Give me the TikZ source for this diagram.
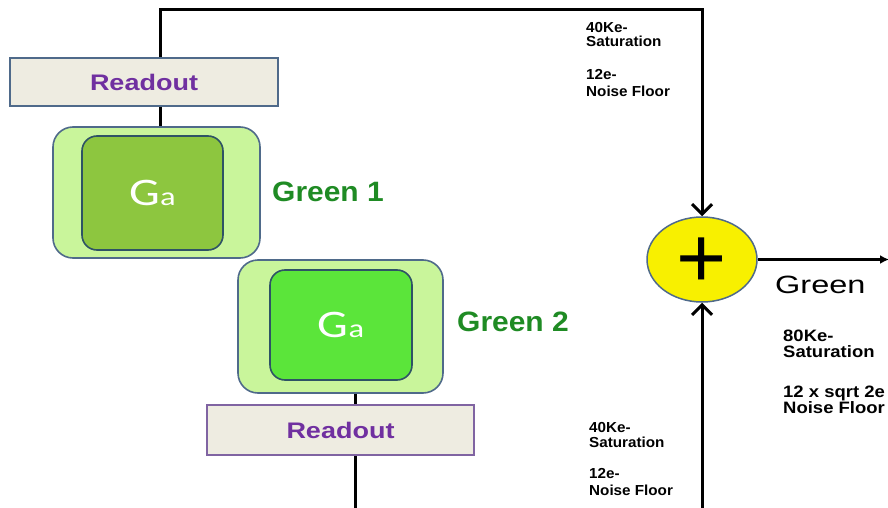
\documentclass[tikz,border=0pt]{standalone}
\usepackage{fontspec}
\setmainfont{Liberation Sans}
\newfontfamily\rdfont{Liberation Sans Bold}[FakeStretch=1.2]
\newfontfamily\grfont{Liberation Sans Bold}[FakeStretch=1.07]
\newfontfamily\outfont{Liberation Sans}[FakeStretch=1.3]
\newfontfamily\smfont{Liberation Sans Bold}[FakeStretch=1.05]
\newfontfamily\rsmfont{Liberation Sans Bold}[FakeStretch=1.12]
\newfontfamily\gafont{Carlito}[FakeStretch=1.25]
\usetikzlibrary{arrows.meta,shapes.geometric,calc}
\definecolor{readfill}{HTML}{EEECE1}
\definecolor{bluegray}{HTML}{4F6A8A}
\definecolor{purpborder}{HTML}{8064A2}
\definecolor{purptext}{HTML}{7030A0}
\definecolor{outerfill}{HTML}{C9F59B}
\definecolor{innerA}{HTML}{8DC63F}
\definecolor{innerB}{HTML}{5BE53A}
\definecolor{innerborder}{HTML}{2E5365}
\definecolor{greentext}{HTML}{1F8B24}
\definecolor{sumfill}{HTML}{F8F000}
\tikzset{
  readbox/.style={draw=bluegray, line width=1.8pt, fill=readfill, inner sep=0pt,
    font=\rdfont\fontsize{22.5}{24}\selectfont, text=purptext},
  outerbox/.style={draw=bluegray, line width=1.6pt, fill=outerfill, rounded corners=20pt, inner sep=0pt},
  innerbox/.style={draw=innerborder, line width=1.6pt, rounded corners=15pt, inner sep=0pt, text=white},
  glabel/.style={font=\grfont\fontsize{28}{30}\selectfont, text=greentext, anchor=base west, inner sep=0pt},
  smtext/.style={font=\smfont\fontsize{14.5}{15}\selectfont, anchor=base west, inner sep=0pt},
  rsmtext/.style={font=\rsmfont\fontsize{16.5}{17}\selectfont, anchor=base west, inner sep=0pt},
  conn/.style={line width=3pt},
  arr/.style={line width=3pt, -{Straight Barb[length=10pt,width=20pt,line width=3pt]}},
}
\newcommand{\gatext}{{\gafont\fontsize{39}{39}\selectfont G\fontsize{26}{26}\selectfont a}}
\begin{document}
\begin{tikzpicture}[x=1pt,y=-1pt]
\useasboundingbox (0,0) rectangle (888,508);
\clip (0,0) rectangle (888,508);
\fill[white] (0,0) rectangle (888,508);

% boxes
\node[readbox, minimum width=268pt, minimum height=48pt] (r1) at (144,82) {Readout};
\node[outerbox, minimum width=207pt, minimum height=131pt] (o1) at (156.5,192.5) {};
\node[innerbox, fill=innerA, minimum width=141pt, minimum height=114pt] (i1) at (152.5,193) {\gatext};
\node[outerbox, minimum width=205pt, minimum height=133pt] (o2) at (340.5,326.5) {};
\node[innerbox, fill=innerB, minimum width=142pt, minimum height=110pt] (i2) at (341,325) {\gatext};
\node[readbox, draw=purpborder, minimum width=267pt, minimum height=50pt] (r2) at (340.5,430) {Readout};

\node[glabel] (g1) at (272,201) {Green 1};
\node[glabel] (g2) at (457,331) {Green 2};

% summing junction
\node[ellipse, draw=bluegray, line width=1.5pt, fill=sumfill, minimum width=110pt, minimum height=85pt, inner sep=0pt] (sum) at (702,259.5) {};
\node[font=\fontsize{86}{86}\selectfont, inner sep=0pt] (plus) at (702,263) {+};

% coordinates
\coordinate (t1) at (160,10);
\coordinate (x2) at (355,0);
\coordinate (b1) at (355,510);
\coordinate (b2) at (702,510);
\coordinate (out) at (889,259.5);

% connectors
\draw[arr] (r1.north -| t1) -- (t1) -| (sum.north);
\draw[conn] (r1.south -| t1) -- (o1.north -| t1);
\draw[conn] (o2.south -| x2) -- (r2.north -| x2);
\draw[conn] (r2.south -| x2) -- (b1);
\draw[arr] (b2) -- (sum.south);
\draw[line width=2.5pt, -{Latex[length=9pt,width=9pt]}] (sum.east) -- (out);

\node[font=\outfont\fontsize{25}{27}\selectfont, anchor=base west, inner sep=0pt] (gout) at (775,293) {Green};

% text blocks
\node[smtext] (a1) at (586,33) {40Ke-};
\node[smtext] (a2) at (586,47) {Saturation};
\node[smtext] (a3) at (586,80) {12e-};
\node[smtext] (a4) at (586,97) {Noise Floor};

\node[smtext] (c1) at (589,432) {40Ke-};
\node[smtext] (c2) at (589,447) {Saturation};
\node[smtext] (c3) at (589,478) {12e-};
\node[smtext] (c4) at (589,495) {Noise Floor};

\node[rsmtext] (d1) at (783,341) {80Ke-};
\node[rsmtext] (d2) at (783,357) {Saturation};
\node[rsmtext] (d3) at (783,397) {12 x sqrt 2e};
\node[rsmtext] (d4) at (783,413) {Noise Floor};
\end{tikzpicture}
\end{document}
